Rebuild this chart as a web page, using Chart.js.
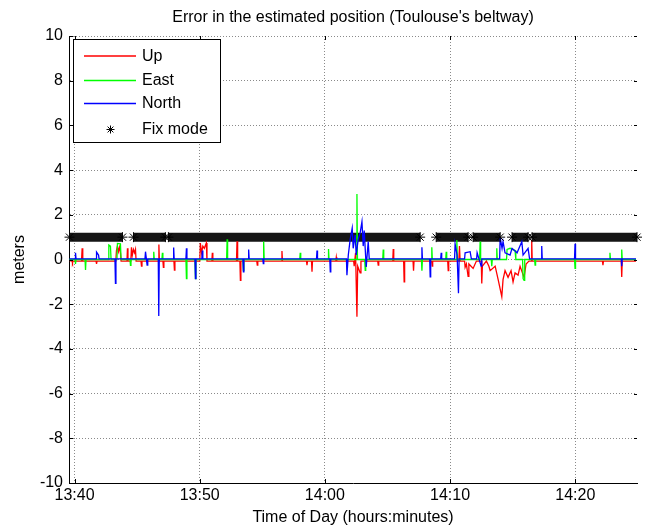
<!DOCTYPE html>
<html><head><meta charset="utf-8">
<script src="https://cdn.jsdelivr.net/npm/chart.js@4.4.1/dist/chart.umd.min.js"></script>
<style>html,body{margin:0;padding:0;background:#fff;}#wrap{width:652px;height:531px;}</style>
</head><body><div id="wrap"><canvas id="c" width="652" height="531"></canvas></div>
<script>
const chartTitle = "Error in the estimated position (Toulouse's beltway)";
const xAxisTitle = "Time of Day (hours:minutes)";
const yAxisTitle = "meters";
const seriesNames = ["Up", "East", "North", "Fix mode"];
// time in minutes after 13:00
const xTicks = [40, 50, 60, 70, 80];
const yTicks = [-10, -8, -6, -4, -2, 0, 2, 4, 6, 8, 10];

const upT = [39.60,39.80,39.84,39.88,40.56,40.61,40.66,41.72,41.76,41.80,43.30,43.35,43.43,43.51,43.60,43.67,43.72,44.19,44.23,44.27,44.50,44.55,44.62,44.71,44.80,44.87,44.92,45.31,45.35,45.39,46.70,46.74,46.78,47.06,47.10,47.14,47.94,47.98,48.02,50.01,50.05,50.15,50.25,50.37,50.53,50.58,50.97,51.01,51.05,52.94,52.98,53.03,53.21,53.25,53.29,54.56,54.60,54.64,56.53,56.57,56.61,58.53,58.57,58.61,58.93,58.97,59.01,60.87,60.91,60.95,62.30,62.34,62.45,62.56,62.62,62.82,62.88,64.22,64.26,64.30,65.42,65.46,65.50,66.29,66.33,66.37,67.04,67.08,67.12,68.53,68.57,68.61,69.81,69.85,69.89,70.70,70.75,70.80,71.16,71.20,71.30,71.44,71.50,71.84,72.10,72.49,72.53,72.58,72.90,73.10,73.20,73.60,73.84,74.13,74.23,74.39,74.63,74.87,75.03,75.19,75.43,75.59,75.91,76.07,76.30,76.48,76.52,76.56,82.17,82.21,82.25,83.67,83.71,83.75,84.85];
const upV = [-0.05,-0.07,-0.15,-0.07,-0.07,0.5,-0.07,-0.07,-0.2,-0.07,-0.07,0.4,0.6,0.35,0.55,0.3,-0.07,-0.07,0.5,-0.07,-0.07,0.55,0.2,0.45,0.3,0.45,-0.07,-0.07,-0.3,-0.07,-0.07,0.67,-0.07,-0.07,-0.35,-0.07,-0.07,-0.47,-0.07,-0.07,0.74,0.3,0.6,0.5,0.74,-0.07,-0.07,0.3,-0.07,-0.07,0.82,-0.07,-0.07,-0.93,-0.07,-0.07,-0.25,-0.07,-0.07,0.38,-0.07,-0.07,-0.25,-0.07,-0.07,-0.55,-0.07,-0.07,0.1,-0.07,-0.07,-0.3,0.3,-2.56,-0.3,-0.6,-0.07,-0.07,-0.25,-0.07,-0.07,0.47,-0.07,-0.07,-1.0,-0.07,-0.07,-0.5,-0.07,-0.07,-0.3,-0.07,-0.07,-0.5,-0.07,-0.07,0.6,-0.07,-0.07,-0.35,-0.2,-0.75,-0.2,-0.4,-0.07,-0.07,-1.07,-0.3,-0.07,-0.3,-0.5,-0.3,-0.9,-1.66,-0.9,-0.5,-0.8,-0.5,-1.0,-0.6,-0.7,-0.3,-0.8,-0.2,-0.07,-0.07,0.87,-0.07,-0.07,-0.25,-0.07,-0.07,-0.78,-0.07,-0.07];

const eastT = [39.60,40.04,40.08,40.12,40.84,40.88,40.92,42.70,42.74,42.87,42.92,43.39,43.43,43.67,43.72,44.43,44.47,44.51,46.29,46.33,46.37,46.98,47.02,47.06,48.90,48.94,48.98,49.62,49.66,49.70,52.15,52.19,52.23,53.45,53.49,53.53,55.07,55.11,55.15,57.99,58.03,58.07,60.25,60.29,60.33,62.52,62.56,62.60,63.18,63.22,63.26,64.62,64.66,64.70,67.71,67.75,67.79,68.50,68.54,68.58,69.65,69.69,69.73,70.50,70.54,70.58,72.36,72.40,72.44,73.29,73.33,73.37,73.69,73.73,73.77,74.51,74.55,74.79,75.19,75.25,75.79,75.83,75.91,75.96,76.75,76.79,76.83,79.94,79.98,80.02,82.73,82.77,82.81,83.67,83.71,83.75,84.85];
const eastV = [0,0,-0.2,0,0,-0.47,0,0,0.65,0.6,0,0,0.72,0.7,0,0,-0.26,0,0,0.35,0,0,0.3,0,0,-0.85,0,0,-0.85,0,0,0.9,0,0,-0.5,0,0,0.8,0,0,0.3,0,0,0.47,0,0,2.93,0,0,-0.48,0,0,0.45,0,0,-0.5,0,0,0.55,0,0,0.35,0,0,0.87,0,0,0.8,0,0,-0.3,0,0,0.5,0,0,0.45,0.5,0.4,0,0,-0.85,-0.93,0,0,-0.25,0,0,-0.4,0,0,0.3,0,0,0.45,0,0];

const northT = [39.60,40.04,40.08,40.12,41.72,41.76,41.92,41.96,43.23,43.27,43.31,45.63,45.67,45.80,45.85,46.69,46.73,46.77,47.88,47.92,47.96,48.90,48.94,48.98,49.62,49.66,49.70,50.17,50.21,50.25,53.45,53.49,53.53,53.87,53.91,53.95,55.04,55.08,55.12,59.33,59.37,59.41,60.39,60.43,60.47,61.72,61.76,61.87,62.02,62.18,62.26,62.42,62.50,62.66,62.82,62.96,63.06,63.14,63.30,63.46,63.54,67.71,67.75,67.79,68.37,68.41,68.45,69.25,69.29,69.33,70.36,70.40,70.56,70.67,70.72,71.16,71.20,71.60,71.70,72.12,72.16,72.48,72.53,73.96,74.00,74.15,74.23,74.39,74.79,74.95,75.35,75.73,75.83,76.23,76.35,77.28,77.32,77.36,79.94,79.98,80.02,83.67,83.71,83.75,84.85];
const northV = [0.03,0.03,0.3,0.03,0.03,0.33,0.2,0.03,0.03,-1.07,0.03,0.03,0.35,-0.25,0.03,0.03,-2.53,0.03,0.03,0.54,0.03,0.03,0.5,0.03,0.03,-0.85,0.03,0.03,0.4,0.03,0.03,-0.55,0.03,0.03,0.45,0.03,0.03,-0.18,0.03,0.03,0.4,0.03,0.03,-0.55,0.03,0.03,-0.7,0.2,0.9,1.4,0.5,1.1,0.2,0.9,1.2,1.69,0.6,1.3,-0.33,0.8,0.03,0.03,0.55,0.03,0.03,-0.78,0.03,0.03,0.3,0.03,0.03,0.7,0.2,-1.51,0.03,0.03,0.3,0.35,0.03,0.03,0.3,-0.3,0.03,0.03,1.0,0.5,0.8,0.3,0.2,0.5,0.3,0.8,0.2,0.5,0.03,0.03,0.6,0.03,0.03,0.7,0.03,0.03,-0.3,0.03,0.03];

// Fix mode (value 1) intervals
const fixStart = [39.60, 44.71, 47.50, 68.89, 71.84, 74.95, 76.55];
const fixEnd   = [43.83, 47.26, 67.61, 71.44, 74.00, 76.23, 84.93];
const fixValue = 1;

const FONT = "'Liberation Sans', Arial, Helvetica, sans-serif";
const toXY = (t, v) => t.map((x, i) => ({x: x, y: v[i]}));
const fixData = [];
fixStart.forEach((s, i) => {
  fixData.push({x: s, y: fixValue});
  fixData.push({x: fixEnd[i], y: fixValue});
  if (i < fixStart.length - 1) fixData.push({x: fixEnd[i], y: null});
});

const fmtTime = v => { const h = 13 + Math.floor(v / 60); const m = Math.round(v % 60); return h + ':' + (m < 10 ? '0' : '') + m; };

function drawStar(ctx, x, y, r) {
  ctx.beginPath();
  ctx.moveTo(x - r, y); ctx.lineTo(x + r, y);
  ctx.moveTo(x, y - r); ctx.lineTo(x, y + r);
  const d = r * 0.72;
  ctx.moveTo(x - d, y - d); ctx.lineTo(x + d, y + d);
  ctx.moveTo(x - d, y + d); ctx.lineTo(x + d, y - d);
  ctx.stroke();
}

const decor = {
  id: 'decor',
  afterDatasetsDraw(chart) {
    // asterisk caps at the ends of each fix-mode run
    const ctx = chart.ctx, xs = chart.scales.x, ys = chart.scales.y;
    ctx.save(); ctx.strokeStyle = '#000'; ctx.lineWidth = 1;
    const y = ys.getPixelForValue(fixValue);
    fixStart.forEach((s, i) => {
      drawStar(ctx, xs.getPixelForValue(s), y, 5);
      drawStar(ctx, xs.getPixelForValue(fixEnd[i]), y, 5);
    });
    ctx.restore();
  },
  afterDraw(chart) {
    const ctx = chart.ctx, a = chart.chartArea;
    const xs = chart.scales.x, ys = chart.scales.y;
    ctx.save();
    ctx.strokeStyle = '#000'; ctx.lineWidth = 1;
    ctx.beginPath();
    xTicks.forEach(t => {
      const px = Math.round(xs.getPixelForValue(t)) + 0.5;
      ctx.moveTo(px, a.bottom); ctx.lineTo(px, a.bottom - 4);
      ctx.moveTo(px, a.top); ctx.lineTo(px, a.top + 4);
    });
    yTicks.forEach(v => {
      const py = Math.round(ys.getPixelForValue(v)) + 0.5;
      ctx.moveTo(a.left, py); ctx.lineTo(a.left + 4, py);
      ctx.moveTo(a.right, py); ctx.lineTo(a.right - 3, py);
    });
    ctx.stroke();
    // legend
    const lx = 73.5, ly = 39.5, lw = 147, lh = 103;
    ctx.fillStyle = '#fff'; ctx.fillRect(lx, ly, lw, lh);
    ctx.strokeStyle = '#000'; ctx.lineWidth = 1; ctx.strokeRect(lx, ly, lw, lh);
    const rows = [55.5, 80, 103, 129];
    ctx.font = '16px ' + FONT; ctx.textBaseline = 'middle'; ctx.textAlign = 'left';
    chart.data.datasets.forEach((ds, i) => {
      const y = rows[i];
      if (i < 3) {
        ctx.strokeStyle = ds.borderColor; ctx.lineWidth = 1.3;
        ctx.beginPath(); ctx.moveTo(84, y + 0.5); ctx.lineTo(136, y + 0.5); ctx.stroke();
      } else {
        ctx.strokeStyle = '#000'; ctx.lineWidth = 1;
        drawStar(ctx, 110.5, y + 0.5, 4);
      }
      ctx.fillStyle = '#000';
      ctx.fillText(ds.label, 142, y + 1);
    });
    ctx.restore();
  }
};

new Chart(document.getElementById('c'), {
  type: 'line',
  data: {
    datasets: [
      {label: seriesNames[0], data: toXY(upT, upV), borderColor: '#ff0000', borderWidth: 1.3, pointRadius: 0, order: 2},
      {label: seriesNames[1], data: toXY(eastT, eastV), borderColor: '#00ff00', borderWidth: 1.3, pointRadius: 0, order: 1},
      {label: seriesNames[2], data: toXY(northT, northV), borderColor: '#0000ff', borderWidth: 1.3, pointRadius: 0, order: 0},
      {label: seriesNames[3], data: fixData, borderColor: '#151515', borderWidth: 9, pointRadius: 0, spanGaps: false, borderCapStyle: 'butt', order: 3}
    ]
  },
  options: {
    responsive: false, animation: false, devicePixelRatio: 1,
    layout: {padding: {left: 0, right: 15, top: 0, bottom: 0}},
    plugins: {
      legend: {display: false}, tooltip: {enabled: false},
      title: {display: true, text: chartTitle, fullSize: false, color: '#000', font: {family: FONT, size: 16, weight: 'normal'}, padding: {top: 8, bottom: 8.8}}
    },
    scales: {
      x: {
        type: 'linear', min: 39.56, max: 84.93,
        afterBuildTicks: s => { s.ticks = xTicks.map(v => ({value: v})); },
        afterFit: s => { s.height = 48; },
        ticks: {callback: v => fmtTime(v), color: '#000', font: {family: FONT, size: 16}, padding: 3, maxRotation: 0, autoSkip: false},
        grid: {color: '#8a8a8a', lineWidth: 1, drawTicks: false},
        border: {display: true, color: '#000', width: 1, dash: [1, 2]},
        title: {display: true, text: xAxisTitle, color: '#000', font: {family: FONT, size: 16}, padding: {top: 4, bottom: 4}}
      },
      y: {
        type: 'linear', min: -10, max: 10,
        afterBuildTicks: s => { s.ticks = yTicks.map(v => ({value: v})); },
        afterFit: s => { s.width = 69; },
        ticks: {color: '#000', font: {family: FONT, size: 16}, padding: 6},
        grid: {color: '#8a8a8a', lineWidth: 1, drawTicks: false},
        border: {display: true, color: '#000', width: 1, dash: [1, 2]},
        title: {display: true, text: yAxisTitle, color: '#000', font: {family: FONT, size: 16}, padding: {top: 10, bottom: 0}}
      }
    }
  },
  plugins: [decor]
});
</script></body></html>
